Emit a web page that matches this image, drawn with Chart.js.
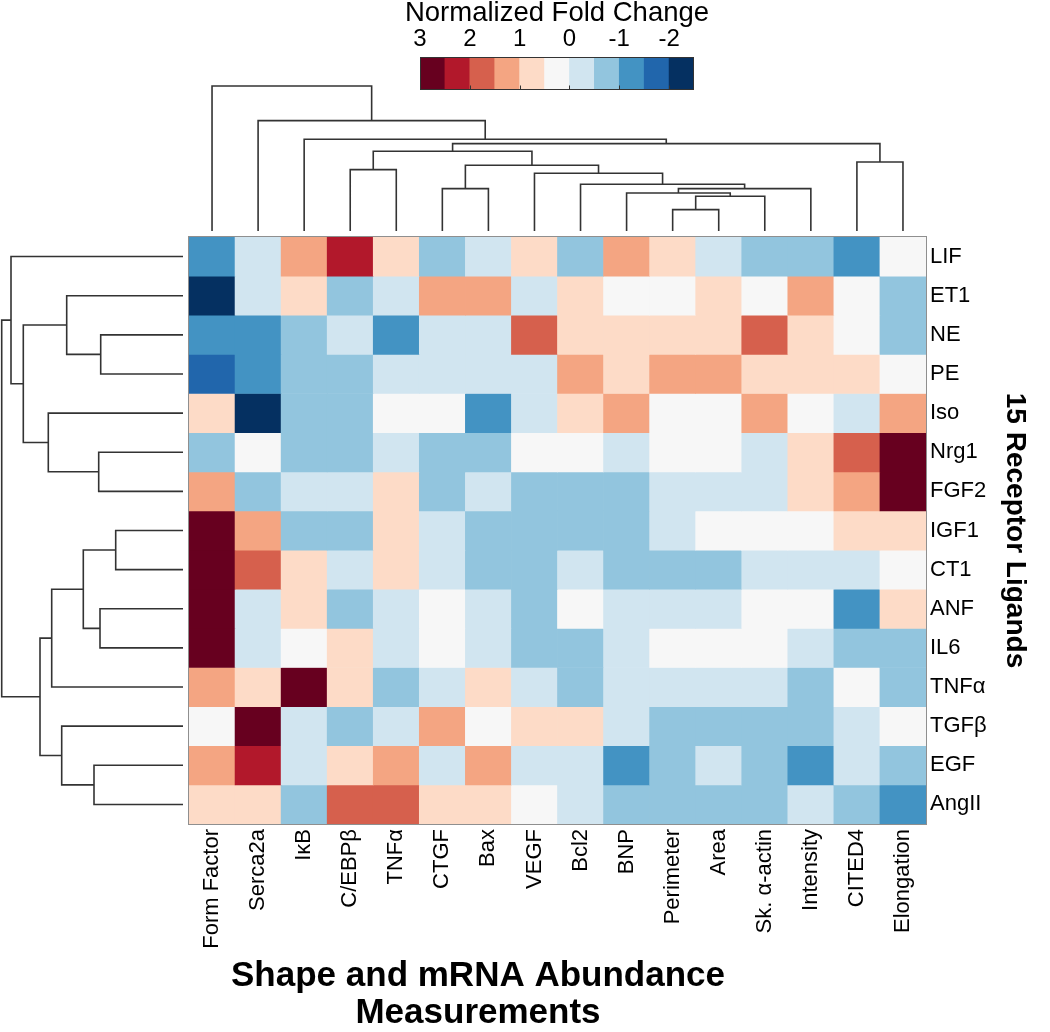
<!DOCTYPE html>
<html>
<head>
<meta charset="utf-8">
<script src="https://cdn.jsdelivr.net/npm/chart.js@4.4.1/dist/chart.umd.min.js"></script>
<style>
  html, body { margin: 0; padding: 0; background: #ffffff; }
  #wrap { position: relative; width: 1050px; height: 1032px; overflow: hidden; background: #ffffff; }
  #main { position: absolute; left: 0; top: 0; }
  #legend { position: absolute; left: 367px; top: 0; }
</style>
</head>
<body>
<div id="wrap">
  <canvas id="main" width="1050" height="1032"></canvas>
  <canvas id="legend" width="380" height="100"></canvas>
</div>
<script>
// ---------------- DATA ----------------
const colLabels = ['Form Factor', 'Serca2a', 'IκB', 'C/EBPβ', 'TNFα', 'CTGF', 'Bax', 'VEGF',
                   'Bcl2', 'BNP', 'Perimeter', 'Area', 'Sk. α-actin', 'Intensity', 'CITED4', 'Elongation'];
const rowLabels = ['LIF', 'ET1', 'NE', 'PE', 'Iso', 'Nrg1', 'FGF2', 'IGF1', 'CT1', 'ANF',
                   'IL6', 'TNFα', 'TGFβ', 'EGF', 'AngII'];

// normalized fold change, one row per ligand, columns in colLabels order
const values = [
  [-1.3, -0.3,  1.3,  2.3,  0.8, -0.8, -0.3,  0.8, -0.8,  1.3,  0.8, -0.3, -0.8, -0.8, -1.3,  0.3], // LIF
  [-2.3, -0.3,  0.8, -0.8, -0.3,  1.3,  1.3, -0.3,  0.8,  0.3,  0.3,  0.8,  0.3,  1.3,  0.3, -0.8], // ET1
  [-1.3, -1.3, -0.8, -0.3, -1.3, -0.3, -0.3,  1.8,  0.8,  0.8,  0.8,  0.8,  1.8,  0.8,  0.3, -0.8], // NE
  [-1.8, -1.3, -0.8, -0.8, -0.3, -0.3, -0.3, -0.3,  1.3,  0.8,  1.3,  1.3,  0.8,  0.8,  0.8,  0.3], // PE
  [ 0.8, -2.3, -0.8, -0.8,  0.3,  0.3, -1.3, -0.3,  0.8,  1.3,  0.3,  0.3,  1.3,  0.3, -0.3,  1.3], // Iso
  [-0.8,  0.3, -0.8, -0.8, -0.3, -0.8, -0.8,  0.3,  0.3, -0.3,  0.3,  0.3, -0.3,  0.8,  1.8,  2.8], // Nrg1
  [ 1.3, -0.8, -0.3, -0.3,  0.8, -0.8, -0.3, -0.8, -0.8, -0.8, -0.3, -0.3, -0.3,  0.8,  1.3,  2.8], // FGF2
  [ 2.8,  1.3, -0.8, -0.8,  0.8, -0.3, -0.8, -0.8, -0.8, -0.8, -0.3,  0.3,  0.3,  0.3,  0.8,  0.8], // IGF1
  [ 2.8,  1.8,  0.8, -0.3,  0.8, -0.3, -0.8, -0.8, -0.3, -0.8, -0.8, -0.8, -0.3, -0.3, -0.3,  0.3], // CT1
  [ 2.8, -0.3,  0.8, -0.8, -0.3,  0.3, -0.3, -0.8,  0.3, -0.3, -0.3, -0.3,  0.3,  0.3, -1.3,  0.8], // ANF
  [ 2.8, -0.3,  0.3,  0.8, -0.3,  0.3, -0.3, -0.8, -0.8, -0.3,  0.3,  0.3,  0.3, -0.3, -0.8, -0.8], // IL6
  [ 1.3,  0.8,  2.8,  0.8, -0.8, -0.3,  0.8, -0.3, -0.8, -0.3, -0.3, -0.3, -0.3, -0.8,  0.3, -0.8], // TNFa
  [ 0.3,  2.8, -0.3, -0.8, -0.3,  1.3,  0.3,  0.8,  0.8, -0.3, -0.8, -0.8, -0.8, -0.8, -0.3,  0.3], // TGFb
  [ 1.3,  2.3, -0.3,  0.8,  1.3, -0.3,  1.3, -0.3, -0.3, -1.3, -0.8, -0.3, -0.8, -1.3, -0.3, -0.8], // EGF
  [ 0.8,  0.8, -0.8,  1.8,  1.8,  0.8,  0.8,  0.3, -0.3, -0.8, -0.8, -0.8, -0.8, -0.3, -0.8, -1.3]  // AngII
];

// column dendrogram: [childA, childB, height]; leaves 0..15, merge k gets id 16+k
const colMerges = [
  [10, 11, 2.14], [16, 12, 3.47], [9, 17, 3.80], [18, 13, 4.24], [8, 19, 4.67],
  [7, 20, 5.77], [5, 6, 4.24], [22, 21, 6.57], [3, 4, 6.14], [24, 23, 7.97],
  [14, 15, 6.90], [25, 26, 8.74], [2, 27, 9.17], [1, 28, 11.04], [0, 29, 14.50]
];
// row dendrogram: leaves 0..14, merge k gets id 15+k
const rowMerges = [
  [2, 3, 8.23], [1, 15, 11.63], [5, 6, 8.43], [4, 17, 13.47], [16, 18, 15.97],
  [0, 19, 17.20], [7, 8, 6.73], [9, 10, 8.30], [21, 22, 9.97], [23, 11, 13.13],
  [13, 14, 8.90], [12, 25, 12.13], [24, 26, 14.30], [20, 27, 18.13]
];

// colour key
const legendBins = [2.75, 2.25, 1.75, 1.25, 0.75, 0.25, -0.25, -0.75, -1.25, -1.75, -2.25];
const legendTicks = [3, 2, 1, 0, -1, -2];

// ---------------- STYLE / LAYOUT ----------------
const FONT = '"Liberation Sans", Arial, Helvetica, sans-serif';
const palette = ['#67001f', '#b2182b', '#d6604d', '#f4a582', '#fddbc7', '#f7f7f7',
                 '#d1e5f0', '#92c5de', '#4393c3', '#2166ac', '#053061'];
const KEY_TOP = 3, KEY_BIN = 0.5;
function colorFor(v) {
  let i = Math.floor((KEY_TOP - v) / KEY_BIN + 1e-9);
  i = Math.max(0, Math.min(palette.length - 1, i));
  return palette[i];
}

const HM_LEFT = 189, HM_TOP = 237, HM_RIGHT = 926, HM_BOTTOM = 824;
const CANVAS_W = 1050, CANVAS_H = 1032;
const AREA_LEFT = 30;
const colW = (HM_RIGHT - HM_LEFT) / colLabels.length;
const rowH = (HM_BOTTOM - HM_TOP) / rowLabels.length;
const X_MIN = -0.5 - (HM_LEFT - AREA_LEFT) / colW;
const DENDRO_GAP = 6, DENDRO_PX = 10;

const topY = d => -0.5 - (DENDRO_GAP + d * DENDRO_PX) / rowH;
const leftX = d => -0.5 - (DENDRO_GAP + d * DENDRO_PX) / colW;

function dendroPoints(merges, nLeaves, orient) {
  const pos = [], ht = [];
  for (let i = 0; i < nLeaves; i++) { pos[i] = i; ht[i] = 0; }
  const pts = [];
  merges.forEach(([a, b, h], k) => {
    const id = nLeaves + k;
    pos[id] = (pos[a] + pos[b]) / 2;
    ht[id] = h;
    [[pos[a], ht[a]], [pos[a], h], [pos[b], h], [pos[b], ht[b]]].forEach(([p, d]) => {
      pts.push(orient === 'top' ? { x: p, y: topY(d) } : { x: leftX(d), y: p });
    });
    pts.push({ x: null, y: null });
  });
  return pts;
}

Chart.defaults.font.family = FONT;
Chart.defaults.color = '#000';

const heatDatasets = rowLabels.map((name, r) => ({
  type: 'bar',
  label: name,
  data: values[r].map((v, c) => ({ x: c, y: [r - 0.5, r + 0.5] })),
  backgroundColor: values[r].map(colorFor),
  borderWidth: 0,
  grouped: false,
  barPercentage: 1,
  categoryPercentage: 1
}));

const lineStyle = {
  type: 'line', borderColor: '#333333', borderWidth: 1.6, pointRadius: 0, pointHoverRadius: 0,
  pointHitRadius: 0, tension: 0, fill: false, spanGaps: false, clip: false,
  borderCapStyle: 'butt', borderJoinStyle: 'miter'
};
const colDendro = Object.assign({ label: 'column dendrogram', data: dendroPoints(colMerges, colLabels.length, 'top') }, lineStyle);
const rowDendro = Object.assign({ label: 'row dendrogram', data: dendroPoints(rowMerges, rowLabels.length, 'left') }, lineStyle);

const heatBorder = {
  id: 'heatBorder',
  afterDatasetsDraw(chart) {
    const { ctx, scales: { x, y } } = chart;
    const l = x.getPixelForValue(-0.5), r = x.getPixelForValue(colLabels.length - 0.5);
    const t = y.getPixelForValue(-0.5), b = y.getPixelForValue(rowLabels.length - 0.5);
    ctx.save();
    ctx.strokeStyle = '#8f8f8f';
    ctx.lineWidth = 1;
    ctx.strokeRect(Math.round(l) - 0.5, Math.round(t) - 0.5, Math.round(r - l) + 1, Math.round(b - t) + 1);
    ctx.restore();
  }
};

new Chart(document.getElementById('main'), {
  type: 'bar',
  data: { datasets: [...heatDatasets, colDendro, rowDendro] },
  options: {
    responsive: false, animation: false, events: [], devicePixelRatio: 1,
    layout: { padding: { left: AREA_LEFT, top: HM_TOP, right: 0, bottom: 0 } },
    plugins: { legend: { display: false }, tooltip: { enabled: false }, title: { display: false } },
    scales: {
      x: {
        type: 'linear', position: 'bottom', min: X_MIN, max: colLabels.length - 0.5,
        bounds: 'data', offset: false, stacked: false,
        grid: { display: false, drawTicks: false, offset: false }, border: { display: false },
        afterBuildTicks: s => { s.ticks = colLabels.map((_, i) => ({ value: i })); },
        afterFit: s => { s.height = CANVAS_H - HM_BOTTOM; },
        ticks: {
          autoSkip: false, minRotation: 90, maxRotation: 90, padding: 5,
          font: { size: 22 }, color: '#000',
          callback: v => colLabels[Math.round(v)]
        },
        title: {
          display: true, text: ['Shape and mRNA Abundance', 'Measurements'],
          font: { size: 35, weight: 'bold', lineHeight: '37px' }, color: '#000',
          padding: { top: 0, bottom: 0 }
        }
      },
      y: {
        type: 'linear', position: 'right', min: -0.5, max: rowLabels.length - 0.5, reverse: true,
        bounds: 'data', stacked: false, beginAtZero: false,
        grid: { display: false, drawTicks: false }, border: { display: false },
        afterBuildTicks: s => { s.ticks = rowLabels.map((_, i) => ({ value: i })); },
        afterFit: s => { s.width = CANVAS_W - HM_RIGHT; },
        ticks: {
          autoSkip: false, padding: 4, font: { size: 22 }, color: '#000',
          callback: v => rowLabels[Math.round(v)]
        },
        title: {
          display: true, text: '15 Receptor Ligands',
          font: { size: 28, weight: 'bold', lineHeight: '34px' }, color: '#000',
          padding: { top: 18, bottom: 0 }
        }
      }
    }
  },
  plugins: [heatBorder]
});

// ---------------- COLOUR KEY ----------------
const keyFrame = {
  id: 'keyFrame',
  afterDatasetsDraw(chart) {
    const { ctx, chartArea: a, scales: { x } } = chart;
    ctx.save();
    ctx.strokeStyle = '#333333';
    ctx.lineWidth = 1;
    ctx.strokeRect(Math.round(a.left) + 0.5, Math.round(a.top) + 0.5, Math.round(a.width) - 1, Math.round(a.height) - 1);
    ctx.beginPath();
    legendTicks.forEach(v => {
      if (v === KEY_TOP) return;
      const px = Math.round(x.getPixelForValue(v)) + 0.5;
      ctx.moveTo(px, a.bottom);
      ctx.lineTo(px, a.bottom - 4);
    });
    ctx.stroke();
    ctx.restore();
  }
};

const KEY_SIDE = 53;
new Chart(document.getElementById('legend'), {
  type: 'bar',
  data: {
    datasets: [{
      label: 'key',
      data: legendBins.map(v => ({ x: v, y: 1 })),
      backgroundColor: legendBins.map(colorFor),
      borderWidth: 0, barPercentage: 1, categoryPercentage: 1
    }]
  },
  options: {
    responsive: false, animation: false, events: [], devicePixelRatio: 1,
    layout: { padding: { left: 0, right: 0, top: 0, bottom: 10.5 } },
    plugins: {
      legend: { display: false }, tooltip: { enabled: false },
      title: { display: true, text: 'Normalized Fold Change', position: 'top', align: 'center',
               font: { size: 27.5, weight: 'normal', lineHeight: '26px' }, color: '#000',
               padding: { top: 0, bottom: 0 } }
    },
    scales: {
      x: {
        type: 'linear', position: 'top', min: -2.5, max: 3, reverse: true, bounds: 'data', offset: false,
        grid: { display: false, drawTicks: false, offset: false }, border: { display: false },
        afterBuildTicks: s => { s.ticks = legendTicks.map(v => ({ value: v })); },
        afterFit: s => { s.height = 31; },
        ticks: { autoSkip: false, maxRotation: 0, padding: 3, font: { size: 24 }, color: '#000',
                 callback: v => String(v) }
      },
      y: { type: 'linear', position: 'left', min: 0, max: 1, beginAtZero: true,
           grid: { display: false, drawTicks: false }, border: { display: false },
           ticks: { display: false }, afterFit: s => { s.width = KEY_SIDE; } },
      yr: { type: 'linear', position: 'right', min: 0, max: 1,
            grid: { display: false, drawTicks: false }, border: { display: false },
            ticks: { display: false }, afterFit: s => { s.width = KEY_SIDE; } }
    }
  },
  plugins: [keyFrame]
});
</script>
</body>
</html>
